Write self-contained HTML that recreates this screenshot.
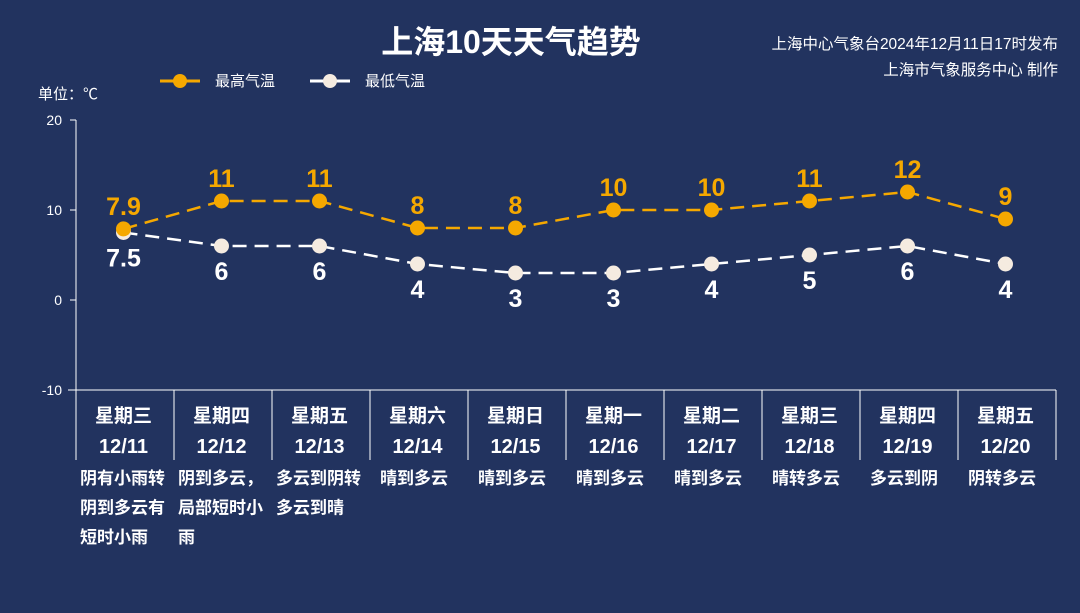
<!DOCTYPE html>
<html><head><meta charset="utf-8"><style>
html,body{margin:0;padding:0;background:#22335f;}
svg{display:block;font-family:"Liberation Sans","Noto Sans CJK SC",sans-serif;}
</style></head><body>
<svg id="c" width="1080" height="613" xmlns="http://www.w3.org/2000/svg">
<rect width="1080" height="613" fill="#22335f"/>
<text x="511" y="53" text-anchor="middle" font-size="32" font-weight="bold" fill="#fff">上海10天天气趋势</text>
<text x="1058" y="49" text-anchor="end" font-size="15.5" fill="#fff">上海中心气象台2024年12月11日17时发布</text>
<text x="1058" y="75" text-anchor="end" font-size="15.5" fill="#fff">上海市气象服务中心 制作</text>
<g>
<line x1="160" y1="81" x2="200" y2="81" stroke="#f5a800" stroke-width="3"/>
<circle cx="180" cy="81" r="7" fill="#f5a800"/>
<text x="215" y="86" font-size="15" fill="#fff">最高气温</text></g>
<g>
<line x1="310" y1="81" x2="350" y2="81" stroke="#fff" stroke-width="3"/>
<circle cx="330" cy="81" r="7" fill="#f5ebe0"/>
<text x="365" y="86" font-size="15" fill="#fff">最低气温</text></g>
<text x="38" y="99" font-size="15" fill="#fff">单位：℃</text>
<g id="axes"></g><g id="marks"></g><g id="table"></g>
</svg>
<script>
const weekdays=["星期三","星期四","星期五","星期六","星期日","星期一","星期二","星期三","星期四","星期五"];
const dates=["12/11","12/12","12/13","12/14","12/15","12/16","12/17","12/18","12/19","12/20"];
const highTemps=[7.9,11,11,8,8,10,10,11,12,9];
const lowTemps=[7.5,6,6,4,3,3,4,5,6,4];
const yTicks=[20,10,0,-10];
const descriptions=[["阴有小雨转","阴到多云有","短时小雨"],["阴到多云，","局部短时小","雨"],["多云到阴转","多云到晴"],["晴到多云"],["晴到多云"],["晴到多云"],["晴到多云"],["晴转多云"],["多云到阴"],["阴转多云"]];
const NS="http://www.w3.org/2000/svg";
const X0=76,CW=98,Y0=300,PPU=9;
const xs=i=>X0+CW*i+47.5;
const ys=v=>Y0-v*PPU;
function mk(tag,attrs,parent,txt){const e=document.createElementNS(NS,tag);for(const k in attrs)e.setAttribute(k,attrs[k]);if(txt!==undefined)e.textContent=txt;parent.appendChild(e);return e;}
const axes=document.getElementById('axes'),marks=document.getElementById('marks'),table=document.getElementById('table');
let a=mk('line',{x1:X0,y1:ys(20),x2:X0,y2:ys(-10),stroke:'#fff','stroke-width':1},axes);


yTicks.forEach(t=>{
 let l=mk('line',{x1:X0-6,y1:ys(t),x2:X0,y2:ys(t),stroke:'#fff'},axes);
 
 
 let tx=mk('text',{x:X0-14,y:ys(t)+5,'text-anchor':'end','font-size':14,fill:'#fff'},axes,String(t));
 
 
});
let xa=mk('line',{x1:X0-8,y1:ys(-10),x2:1056,y2:ys(-10),stroke:'#fff'},axes);


function series(vals,color,fill,above,name){
 let p=mk('polyline',{points:vals.map((v,i)=>xs(i)+','+ys(v)).join(' '),fill:'none',stroke:color,'stroke-width':2.5,'stroke-dasharray':'14,8'},marks);
 
 
 vals.forEach((v,i)=>{
  let c=mk('circle',{cx:xs(i),cy:ys(v),r:7.5,fill:fill},marks);
  
  
  let t=mk('text',{x:xs(i),y:above?ys(v)-14:ys(v)+34,'text-anchor':'middle','font-size':25,'font-weight':'bold',fill:color},marks,String(v));
  
  
 });
}
series(lowTemps,'#fff','#f5ebe0',false,'low-temp');
series(highTemps,'#f5a800','#f5a800',true,'high-temp');
weekdays.forEach((w,i)=>{
 const cx=xs(i);
 let s=mk('line',{x1:X0+CW*(i+1),y1:390,x2:X0+CW*(i+1),y2:460,stroke:'#fff'},table);
 
 
 let t1=mk('text',{x:cx,y:422,'text-anchor':'middle','font-size':19,'font-weight':'bold',fill:'#fff'},table,w);
 
 
 let t2=mk('text',{x:cx,y:453,'text-anchor':'middle','font-size':20,'font-weight':'bold',fill:'#fff'},table,dates[i]);
 
 
 descriptions[i].forEach((ln,j)=>{
  let d=mk('text',{x:X0+CW*i+(descriptions[i].length===1?10:4),y:484+j*29.5,'font-size':17,'font-weight':'bold',fill:'#fff'},table,ln);
  
  
 });
});
let s0=mk('line',{x1:X0,y1:390,x2:X0,y2:460,stroke:'#fff'},table);


</script>
</body></html>
